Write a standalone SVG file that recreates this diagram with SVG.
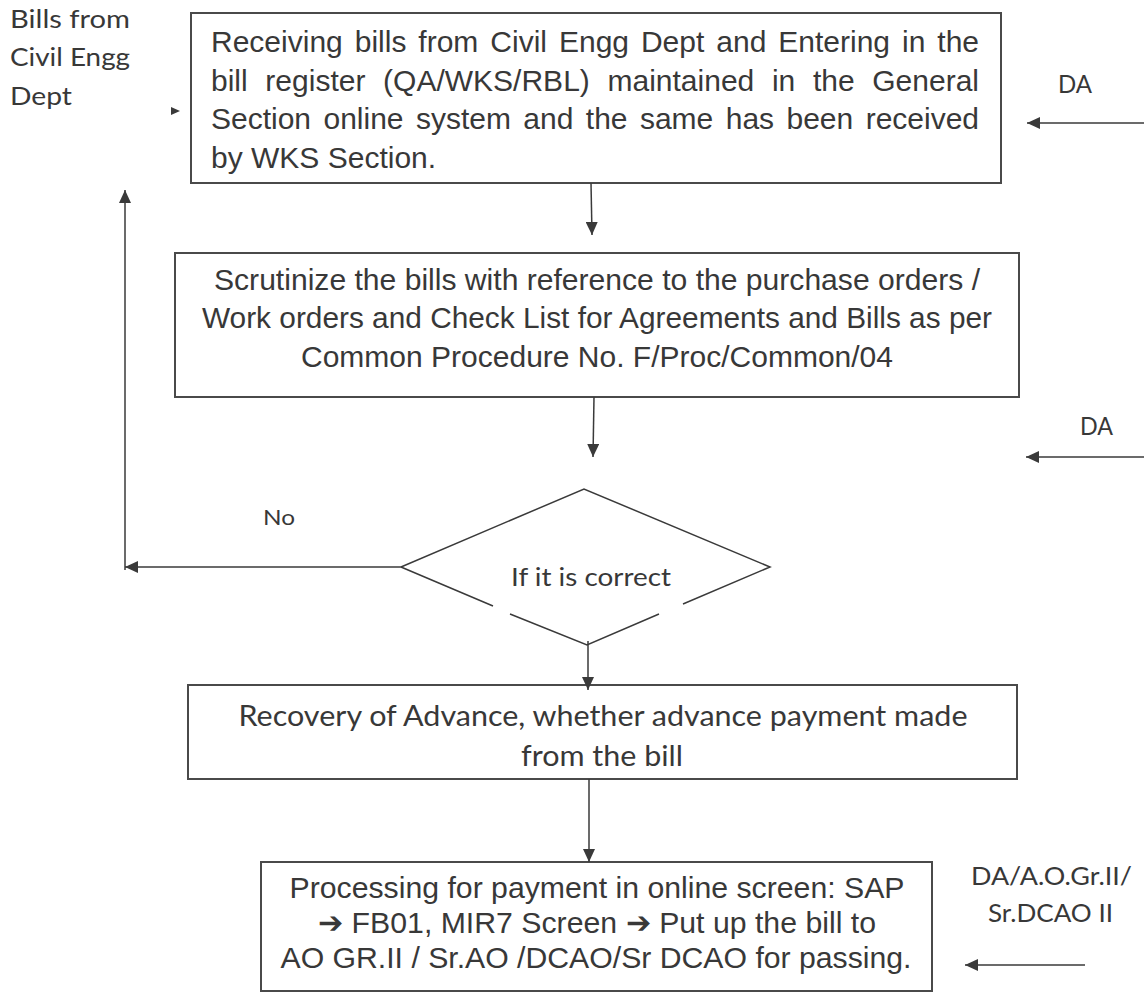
<svg xmlns="http://www.w3.org/2000/svg" width="1144" height="993" viewBox="0 0 1144 993">
  <style>
    .box { fill: #ffffff; stroke: #4a4a4a; stroke-width: 2; }
    .edge { fill: none; stroke: #3a3a3a; stroke-width: 1.5; }
    .arial { font-family: "Liberation Sans", Arial, sans-serif; fill: #383838; }
    .cal { font-family: Lato, "Open Sans", sans-serif; fill: #383838; }
  </style>
  <defs>
    <marker id="head" markerUnits="userSpaceOnUse" markerWidth="14" markerHeight="12" refX="13" refY="6" orient="auto">
      <path d="M0,0 L13,6 L0,12 Z" fill="#3a3a3a"/>
    </marker>
  </defs>
  <rect width="1144" height="993" fill="#ffffff"/>

  <!-- side labels -->
  <g id="label-source" class="cal" font-size="25">
    <text x="10" y="28" textLength="120" lengthAdjust="spacingAndGlyphs">Bills from</text>
    <text x="10" y="66" textLength="120" lengthAdjust="spacingAndGlyphs">Civil Engg</text>
    <text x="10" y="105" textLength="62" lengthAdjust="spacingAndGlyphs">Dept</text>
  </g>
  <g id="label-da1" class="cal" font-size="25">
    <text x="1058" y="93" textLength="34" lengthAdjust="spacingAndGlyphs">DA</text>
  </g>
  <g id="label-da2" class="cal" font-size="25">
    <text x="1080" y="435" textLength="33" lengthAdjust="spacingAndGlyphs">DA</text>
  </g>
  <g id="label-passing" class="cal" font-size="25">
    <text x="971" y="885" textLength="161" lengthAdjust="spacingAndGlyphs">DA/A.O.Gr.II/</text>
    <text x="988" y="922" textLength="125" lengthAdjust="spacingAndGlyphs">Sr.DCAO II</text>
  </g>
  <g id="label-no" class="cal" font-size="22">
    <text x="263" y="525" textLength="32" lengthAdjust="spacingAndGlyphs">No</text>
  </g>

  <!-- step 1: receiving bills -->
  <g id="receive">
    <rect class="box" x="191" y="13" width="810" height="170"/>
    <g class="arial" font-size="30">
      <text x="211" y="52" word-spacing="3.6" textLength="768" lengthAdjust="spacing">Receiving bills from Civil Engg Dept and Entering in the</text>
      <text x="211" y="91" word-spacing="9.3" textLength="768" lengthAdjust="spacing">bill register (QA/WKS/RBL) maintained in the General</text>
      <text x="211" y="129" word-spacing="4.1" textLength="768" lengthAdjust="spacing">Section online system and the same has been received</text>
      <text x="211" y="168">by WKS Section.</text>
    </g>
  </g>

  <!-- step 2: scrutiny -->
  <g id="scrutinize">
    <rect class="box" x="175" y="253" width="844" height="144"/>
    <g class="arial" font-size="30" text-anchor="middle">
      <text x="597" y="290" textLength="766" lengthAdjust="spacingAndGlyphs">Scrutinize the bills with reference to the purchase orders /</text>
      <text x="597" y="328" textLength="790" lengthAdjust="spacingAndGlyphs">Work orders and Check List for Agreements and Bills as per</text>
      <text x="597" y="367" textLength="592" lengthAdjust="spacingAndGlyphs">Common Procedure No. F/Proc/Common/04</text>
    </g>
  </g>

  <!-- decision -->
  <g id="decision">
    <path class="edge" d="M401,567 L584,489 L770,567 L683,604 M659,614 L587,645 L510,614 M493,606 L401,567"/>
    <text class="cal" font-size="25" x="591" y="586" text-anchor="middle" textLength="160" lengthAdjust="spacingAndGlyphs">If it is correct</text>
  </g>

  <!-- step 3: advance recovery -->
  <g id="recovery">
    <rect class="box" x="188" y="685" width="829" height="94"/>
    <g class="cal" font-size="28" text-anchor="middle">
      <text x="603" y="726" textLength="729" lengthAdjust="spacingAndGlyphs">Recovery of Advance, whether advance payment made</text>
      <text x="602" y="766" textLength="162" lengthAdjust="spacingAndGlyphs">from the bill</text>
    </g>
  </g>

  <!-- step 4: payment processing -->
  <g id="processing">
    <rect class="box" x="261" y="862" width="671" height="129"/>
    <g class="arial" font-size="30" text-anchor="middle">
      <text x="597" y="898" textLength="615" lengthAdjust="spacingAndGlyphs">Processing for payment in online screen: SAP</text>
      <text x="597" y="933" textLength="558" lengthAdjust="spacingAndGlyphs">➔ FB01, MIR7 Screen ➔ Put up the bill to</text>
      <text x="596" y="968" textLength="631" lengthAdjust="spacingAndGlyphs">AO GR.II / Sr.AO /DCAO/Sr DCAO for passing.</text>
    </g>
  </g>

  <!-- connectors -->
  <g id="connectors">
    <path class="edge" d="M591,183 L592,235" marker-end="url(#head)"/>
    <path class="edge" d="M594,397 L593,457" marker-end="url(#head)"/>
    <path class="edge" d="M588,641 L588,690" marker-end="url(#head)"/>
    <path class="edge" d="M589,779 L589,862" marker-end="url(#head)"/>
    <path class="edge" d="M401,567 L125,567" marker-end="url(#head)"/>
    <path class="edge" d="M125,570 L125,190" marker-end="url(#head)"/>
    <path class="edge" d="M1144,123 L1027,123" marker-end="url(#head)"/>
    <path class="edge" d="M1144,457 L1026,457" marker-end="url(#head)"/>
    <path class="edge" d="M1085,965 L965,965" marker-end="url(#head)"/>
    <path d="M171,107 L180,111 L171,115 Z" fill="#3a3a3a"/>
  </g>
</svg>
